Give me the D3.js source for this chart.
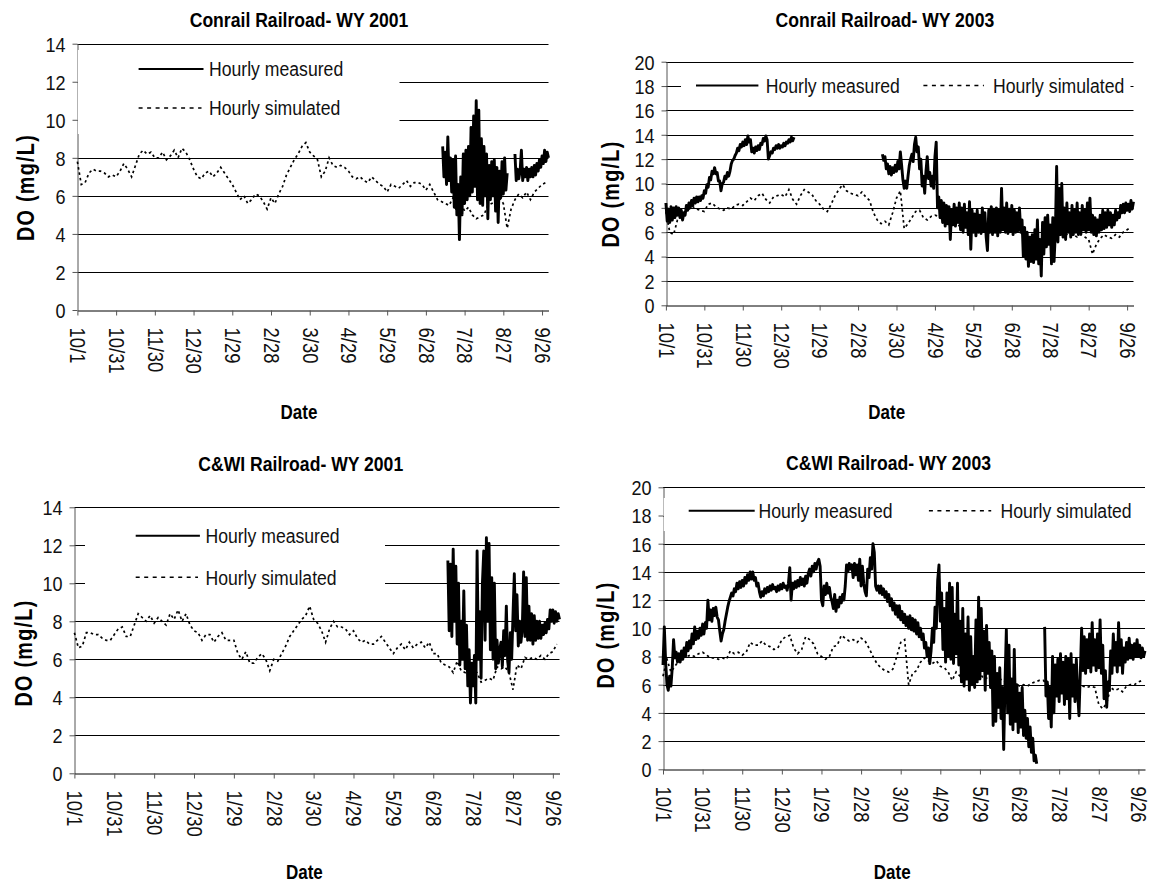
<!DOCTYPE html>
<html><head><meta charset="utf-8">
<script src="https://cdn.jsdelivr.net/npm/d3@7"></script>
<style>
body{margin:0;background:#fff;}
svg{display:block;font-family:"Liberation Sans",Arial,sans-serif;}
</style></head><body>
<svg id="chart" width="1150" height="884"></svg>
<script>
// ---------- data ----------
const tickDays = [0,30,60,90,120,150,180,210,240,270,300,330,360];
const tickLabels = ["10/1","10/31","11/30","12/30","1/29","2/28","3/30","4/29","5/29","6/28","7/28","8/27","9/26"];
const yTicks14 = [0,2,4,6,8,10,12,14];
const yTicks20 = [0,2,4,6,8,10,12,14,16,18,20];
const titles = ["Conrail Railroad- WY 2001","Conrail Railroad- WY 2003","C&WI Railroad- WY 2001","C&WI Railroad- WY 2003"];
const legendLabels = ["Hourly measured","Hourly simulated"];
const yAxisTitle = "DO (mg/L)";
const xAxisTitle = "Date";

// simulated series: one value every 3 days from 10/1
const simStep = 3;
const conrail01Sim = [7.8,6.6,6.7,7.2,7.4,7.3,7.3,7.2,7.0,7.1, 7.0,7.3,7.7,7.4,7.0,7.6,8.2,8.4,8.2,8.3,
 8.0,8.0,8.3,7.9,8.1,8.4,8.0,8.5,8.3,7.9, 7.4,7.0,6.9,7.2,7.3,7.0,7.2,7.5,7.2,6.9,
 6.6,6.2,5.8,6.0,5.6,5.8,6.1,6.0,5.7,5.3, 5.9,5.6,6.1,6.5,7.1,7.5,7.9,8.2,8.6,8.8,
 8.3,8.1,7.9,7.0,7.3,8.0,7.6,7.5,7.6,7.5, 7.3,7.0,6.9,7.0,6.8,6.7,7.0,6.8,6.6,6.5,
 6.2,6.6,6.5,6.4,6.6,6.8,6.5,6.7,6.7,6.6, 6.3,6.6,6.2,5.8,5.7,5.6,5.5,5.9,5.1,5.6,
 5.2,5.4,5.0,4.8,4.9,5.0,5.5,5.6,5.7,5.9, 5.6,4.3,5.3,5.8,6.1,5.9,6.2,5.8,6.2,6.4, 6.6,6.7];
const conrail03Sim = [7.7,6.0,5.8,7.0,7.3,7.6,7.9,8.1,7.9,7.8, 7.7,8.3,8.4,8.1,7.9,7.8,8.0,7.9,8.2,8.3,
 8.2,8.5,8.8,8.6,9.0,9.2,8.7,8.4,8.9,9.0, 9.1,8.9,9.5,8.7,8.3,9.0,9.5,9.3,9.1,8.6,
 8.3,7.9,7.7,8.3,9.0,9.5,9.9,9.4,9.2,9.1, 9.0,9.3,8.9,8.6,7.6,7.0,6.7,6.9,6.6,7.6,
 8.8,9.4,6.3,6.7,7.2,7.7,7.8,7.2,7.0,7.3, 7.4,7.3,7.0,6.8,6.9,6.7,6.5,6.7,6.6,6.4,
 6.5,6.7,6.4,6.3,6.5,6.6,6.4,6.3,6.5,6.3, 6.2,6.1,6.0,5.8,5.6,5.7,5.8,5.9,6.1,6.0,
 5.8,5.6,5.8,6.0,5.9,5.7,5.8,5.6,5.8,5.6, 5.4,4.2,5.0,5.5,5.8,5.6,5.5,5.8,5.6,6.0, 6.2,6.4];
const cwi01Sim = [7.4,6.6,6.7,7.4,7.4,7.3,7.3,7.1,7.0,7.0, 7.3,7.6,7.7,7.2,7.2,7.8,8.4,8.2,8.0,8.3,
 7.9,8.2,8.0,7.8,8.4,8.1,8.6,8.0,8.4,7.8, 7.5,7.4,7.0,7.3,7.3,6.9,7.2,7.4,7.0,7.0,
 7.0,6.3,6.0,6.4,5.8,5.8,6.1,6.3,6.0,5.4, 6.0,5.9,6.3,6.7,7.2,7.5,7.8,8.1,8.3,8.8,
 8.1,7.9,7.5,6.9,7.6,8.0,7.7,7.7,7.6,7.3, 7.5,7.1,6.9,7.0,6.8,6.8,7.0,7.2,6.9,6.6,
 6.3,6.6,6.8,6.5,6.9,6.6,6.8,6.9,6.6,6.9, 6.3,6.3,5.8,5.7,5.6,5.3,5.9,5.4,5.3,5.6,
 5.4,5.3,4.8,4.9,5.0,4.9,5.6,5.5,5.6,5.3, 4.4,5.7,5.5,6.1,6.0,6.1,6.0,6.2,6.0,6.3, 6.4,6.8];
const cwi03Sim = [6.6,7.8,6.9,7.3,7.7,8.0,8.0,8.1,8.0,8.2, 8.3,8.1,7.9,7.9,7.8,7.9,7.8,8.4,8.2,8.3,
 8.1,8.3,9.0,8.8,8.8,9.1,8.8,8.7,8.5,8.6, 9.2,9.4,9.5,8.6,8.2,8.5,9.4,9.2,8.9,8.2,
 8.0,7.8,8.0,8.7,8.8,9.5,9.3,9.1,9.2,9.0, 9.3,9.1,8.6,8.0,7.5,7.2,7.0,6.9,7.1,8.0,
 9.0,9.2,6.0,6.8,7.0,7.6,7.9,7.7,7.5,7.7, 7.3,7.2,6.9,6.3,6.9,6.6,6.8,6.4,6.7,6.5,
 6.8,6.4,6.5,6.3,6.2,6.4,6.3,6.0,5.9,6.1, 5.9,6.0,5.9,6.1,6.2,6.3,6.3,6.0,6.0,5.9,
 6.0,5.9,6.0,5.8,5.9,6.0,5.9,5.8,5.9,5.8, 4.6,4.3,4.7,5.8,5.6,5.7,5.5,5.9,6.0,6.0, 6.2,6.3];

// measured series: one high/low reading per day (null = no data)
const measStep = 1;
const conrail01MeasStart = 283;
const conrail01Meas = [8.6,7.0,8.3,6.6,9.1,6.8,8.0,6.2,7.9,5.4,
 8.1,5.0,6.6,3.7,7.0,5.0,8.2,5.6,8.4,5.8, 8.6,6.0,9.6,6.2,10.2,6.5,11.0,5.8,10.5,5.6,
 9.0,5.5,8.6,6.0,8.2,4.8,7.6,5.8,7.8,6.0, 7.9,5.2,7.5,4.6,7.3,5.9,7.8,6.1,8.0,6.3,
 7.2,null,null,null,null,null,8.2,6.8,7.4,6.9, 7.3,8.4,6.8,7.4,7.0,7.5,6.8,7.4,7.0,7.5,
 7.0,7.6,7.1,7.7,7.3,7.9,7.5,8.1,7.7,8.4, 7.8,8.3,8.0];
const conrail03MeasAStart = 0;
const conrail03MeasA = [8.4,6.9,7.9,6.8,8.1,7.0,8.0,7.2,8.1,7.4, 8.0,7.2,7.8,7.0,7.6,7.4,8.2,7.8,8.4,8.0,
 8.6,8.2,8.8,8.4,8.9,8.5,8.9,8.6,9.0,8.8, 9.4,9.2,9.9,9.7,10.5,10.3,11.0,10.8,11.3,10.8,
 10.9,10.2,10.2,9.4,10.0,10.1,10.6,10.4,10.9,10.6, 11.0,11.6,11.9,12.0,12.3,12.5,12.9,12.7,13.2,13.0,
 13.4,13.1,13.6,13.2,13.9,13.4,13.6,12.6,12.9,12.5, 13.0,12.7,13.1,12.8,13.3,13.2,13.7,13.5,13.9,13.6,
 12.0,12.3,12.6,12.5,12.9,12.8,13.1,12.9,13.2,12.9, 13.1,13.0,13.3,13.1,13.4,13.3,13.6,13.4,13.8,13.5, 13.8];
const conrail03MeasBStart = 169;
const conrail03MeasB = [12.4,11.9,12.2,11.2,11.6,10.8,11.4,10.7,11.3,10.9,
 11.5,11.0,11.8,11.2,12.6,11.5,10.3,9.6,10.2,9.6, 10.6,11.5,12.0,12.4,11.8,13.2,13.8,12.6,13.0,11.2,
 12.0,9.8,10.6,9.2,11.0,12.2,10.4,10.9,9.8,10.6, 9.6,12.2,13.4,8.0,8.9,7.2,8.6,6.8,8.4,6.5,
 8.2,6.7,8.1,5.4,7.8,6.6,8.3,6.5,8.0,6.8, 8.4,6.2,8.0,6.0,8.3,6.4,7.6,5.8,8.5,4.6,
 7.8,6.0,7.5,5.7,7.8,6.0,7.4,5.9,8.0,6.1, 7.6,5.6,4.5,7.8,6.0,8.1,5.8,7.9,6.0,8.0,
 5.7,7.8,6.0,9.6,6.2,8.0,6.0,8.4,5.9,7.9, 6.1,8.2,5.8,7.8,6.0,7.6,6.2,8.0,6.0,7.0,
 4.0,6.4,3.8,6.0,3.2,5.6,3.6,5.8,3.5,6.2, 3.8,7.0,3.4,5.4,2.4,6.8,4.2,7.2,4.8,7.4,
 5.0,6.6,3.4,7.2,3.6,6.0,11.4,5.2,9.6,5.8, 10.0,5.6,8.0,5.4,8.4,6.0,7.6,5.6,8.2,5.8,
 7.8,6.0,8.4,5.8,7.6,5.9,8.2,6.2,7.8,6.0, 8.4,6.2,8.8,6.0,7.4,5.8,7.2,5.7,7.0,6.0,
 7.4,6.2,7.8,6.3,7.6,6.4,7.8,6.6,7.6,6.4, 7.4,6.6,7.8,7.0,7.6,7.2,8.2,7.6,8.3,7.6,
 8.4,7.8,8.3,7.7,8.6,7.9,8.5];
const cwi01MeasStart = 281;
const cwi01Meas = [11.2,7.5,11.0,7.2,11.8,8.0,10.9,6.8,10.0,5.7,
 8.0,6.0,9.6,5.5,7.8,4.6,6.5,3.7,5.8,4.6, 6.2,3.7,11.7,6.0,8.5,5.0,10.0,11.7,7.0,12.4,
 8.0,12.1,6.5,10.3,6.0,10.0,5.5,7.0,5.8,6.5, 6.9,5.6,7.5,6.2,8.8,5.9,5.3,7.4,6.0,8.3,
 10.5,7.5,9.4,6.7,8.0,6.9,7.6,10.6,7.2,10.3, 7.0,8.8,7.0,8.4,6.8,8.3,7.0,8.0,7.1,8.0,
 7.1,7.8,7.3,7.9,7.4,8.1,7.6,8.6,8.0,8.6, 7.9,8.5,8.0,8.4,8.1];
const cwi03MeasStart = 0;
const cwi03Meas = [7.4,10.1,7.6,6.0,5.6,6.6,5.9,7.2,9.2,7.9,
 8.3,7.6,8.2,7.6,8.4,7.8,8.6,8.0,9.0,8.4, 9.1,8.6,9.6,8.9,10.1,9.2,9.8,9.3,10.0,9.5,
 10.3,9.6,10.4,10.0,12.0,10.6,11.3,10.5,11.4,10.9, 11.5,10.8,10.6,9.8,9.1,9.6,9.9,10.5,11.0,11.5,
 11.9,12.2,12.5,12.3,12.8,12.6,13.2,12.8,13.3,12.9, 13.4,13.0,13.6,13.2,13.8,13.4,14.0,13.5,14.0,13.4,
 13.6,13.0,13.2,12.6,12.2,12.6,12.3,12.8,12.5,12.9, 12.6,13.0,12.7,13.1,12.8,12.9,12.6,13.0,12.7,13.1,
 12.8,13.2,12.9,13.0,12.7,13.2,14.3,12.0,13.2,12.8, 13.3,12.9,13.4,13.0,13.6,13.1,13.5,13.0,13.7,13.2,
 13.9,14.2,13.7,14.4,14.0,14.6,14.2,14.7,14.9,14.4, 12.0,11.6,13.0,12.4,13.2,12.5,12.9,12.2,11.9,11.4,
 12.4,11.2,12.0,11.5,12.2,11.8,12.4,12.0,13.0,14.5, 14.0,14.6,14.2,14.5,13.6,14.6,13.8,14.5,13.4,14.9,
 13.0,14.4,13.2,12.6,12.3,14.2,13.6,15.0,14.2,16.0, 15.4,13.0,12.7,13.0,12.5,13.0,12.4,12.8,12.2,12.6,
 11.9,12.4,11.6,12.1,11.3,11.8,11.0,11.6,10.8,11.6, 10.6,11.2,10.4,11.0,10.2,10.8,10.0,10.9,9.9,10.7,
 9.8,10.6,9.6,10.4,9.4,10.0,9.2,9.6,8.6,9.0, 8.0,8.6,7.5,8.4,10.0,9.0,11.5,10.0,13.4,14.5,
 10.5,12.5,8.5,11.4,7.6,12.5,8.0,13.2,7.8,12.9, 7.5,11.0,8.2,13.2,7.4,10.5,6.2,11.4,5.9,9.6,
 6.4,10.8,5.6,9.4,6.0,8.0,5.8,10.6,6.2,12.2, 6.4,11.4,7.0,9.8,5.6,10.2,6.8,9.0,5.8,8.4,
 3.1,8.0,3.4,6.8,4.4,7.2,3.6,5.8,1.4,6.2, 9.9,4.0,8.8,3.2,6.4,2.8,8.5,3.4,6.0,2.6,
 5.4,3.0,5.8,2.4,4.2,2.2,3.6,1.6,3.0,1.2, 2.2,0.6,1.0,0.4,null,null,null,null,null,10.1,
 5.2,6.2,3.6,5.8,3.0,8.0,4.0,7.4,5.2,7.8, 4.8,8.2,5.4,7.6,4.6,8.0,5.0,7.8,3.6,8.2,
 5.2,7.4,4.8,7.8,5.4,3.8,6.8,10.0,7.0,9.4, 6.8,9.2,7.2,9.6,6.9,10.4,7.4,9.2,7.0,9.6,
 7.2,10.6,6.8,8.8,5.0,7.0,4.4,6.2,5.6,8.4, 6.8,9.6,7.4,9.0,6.9,10.4,7.4,9.2,6.8,8.6,
 7.6,9.0,7.8,9.3,7.9,8.8,7.8,8.9,8.0,9.2, 8.0,8.8,7.9,8.6,8.0,8.4];

// ---------- layout ----------
const toPts = (start, step, vals) => vals.map((v, i) => [start + i * step, v]);

const panels = [
  { title: titles[0], yTicks: yTicks14, sim: toPts(0, simStep, conrail01Sim),
    meas: [toPts(conrail01MeasStart, measStep, conrail01Meas)],
    x0: 77.4, x1: 548.5, yTop: 43.7, yBot: 310,
    titleXY: [299, 20], ytXY: [25.7, 187.5], dateXY: [299, 411.7],
    box: [77.9, 50, 399.5, 134],
    leg: [{dash:false, x1:138.6, x2:203.5, y:69, tx:209}, {dash:true, x1:138.6, x2:201.5, y:108, tx:209}] },
  { title: titles[1], yTicks: yTicks20, sim: toPts(0, simStep, conrail03Sim),
    meas: [toPts(conrail03MeasAStart, measStep, conrail03MeasA), toPts(conrail03MeasBStart, measStep, conrail03MeasB)],
    x0: 665.9, x1: 1133.5, yTop: 61.7, yBot: 305.3,
    titleXY: [884.9, 20], ytXY: [610.5, 194], dateXY: [886.7, 411.7],
    box: [681, 75, 1130.5, 97],
    leg: [{dash:false, x1:696, x2:758.4, y:85.5, tx:765.7}, {dash:true, x1:923.4, x2:983.9, y:85.5, tx:993}] },
  { title: titles[2], yTicks: yTicks14, sim: toPts(0, simStep, cwi01Sim),
    meas: [toPts(cwi01MeasStart, measStep, cwi01Meas)],
    x0: 74.4, x1: 559.5, yTop: 507.3, yBot: 773.3,
    titleXY: [300.7, 464], ytXY: [23.8, 653], dateXY: [304.4, 871.7],
    box: [85, 515, 385, 598],
    leg: [{dash:false, x1:135.7, x2:199.9, y:535.7, tx:205.4}, {dash:true, x1:135.7, x2:198, y:577.3, tx:205.4}] },
  { title: titles[3], yTicks: yTicks20, sim: toPts(0, simStep, cwi03Sim),
    meas: [toPts(cwi03MeasStart, measStep, cwi03Meas)],
    x0: 663, x1: 1145, yTop: 487.3, yBot: 769.3,
    titleXY: [888.5, 463.3], ytXY: [606.2, 635], dateXY: [892.2, 871.7],
    box: [663.8, 498, 1146, 531],
    leg: [{dash:false, x1:688.7, x2:754.7, y:510.7, tx:758.4}, {dash:true, x1:928.9, x2:991.2, y:510.7, tx:1000.4}] }
];

const svg = d3.select("#chart");

// text helper: condensed along the reading direction
function addText(parent, x, y, str, o) {
  const rot = o.rotate ? ` rotate(${o.rotate})` : "";
  return parent.append("text")
    .attr("transform", `translate(${x},${y})${rot} scale(${o.k},1)`)
    .attr("dy", "0.35em")
    .attr("text-anchor", o.anchor || "start")
    .attr("font-size", o.size)
    .attr("font-weight", o.bold ? "bold" : null)
    .attr("letter-spacing", o.ls || null)
    .attr("fill", o.fill || "#111")
    .text(str);
}

panels.forEach(p => {
  const yMax = p.yTicks[p.yTicks.length - 1];
  const x = d3.scaleLinear().domain([0, 365]).range([p.x0, p.x1]);
  const y = d3.scaleLinear().domain([0, yMax]).range([p.yBot, p.yTop]);
  const g = svg.append("g");

  // gridlines
  g.append("g").selectAll("line").data(p.yTicks.filter(v => v > 0)).join("line")
    .attr("x1", p.x0).attr("x2", p.x1)
    .attr("y1", d => Math.round(y(d)) + 0.5).attr("y2", d => Math.round(y(d)) + 0.5)
    .attr("stroke", "#000").attr("stroke-width", 1);

  // y axis
  const ya = g.append("g").attr("transform", `translate(${Math.round(p.x0) + 0.5},0)`)
    .call(d3.axisLeft(y).tickValues(p.yTicks).tickSize(5).tickSizeOuter(0).tickPadding(7));
  ya.select(".domain").attr("stroke", "#555");
  ya.selectAll(".tick line").attr("stroke", "#555");
  ya.selectAll("text")
    .attr("font-family", "Liberation Sans, Arial, sans-serif").attr("font-size", 21).attr("fill", "#111")
    .attr("x", 0).attr("dy", "0.35em")
    .attr("transform", "translate(-12,0) scale(0.86,1)");

  // x axis
  const xa = g.append("g").attr("transform", `translate(0,${Math.round(p.yBot) + 0.5})`)
    .call(d3.axisBottom(x).tickValues(tickDays).tickFormat((d, i) => tickLabels[i]).tickSize(5).tickSizeOuter(0));
  xa.select(".domain").attr("stroke", "#000");
  xa.selectAll(".tick line").attr("stroke", "#555");
  xa.selectAll("text")
    .attr("font-family", "Liberation Sans, Arial, sans-serif").attr("font-size", 22).attr("fill", "#111")
    .attr("x", 0).attr("y", 0).attr("dy", "0.35em")
    .attr("transform", "rotate(90) translate(17,0) scale(0.84,1)")
    .attr("text-anchor", "start");

  const line = d3.line().defined(d => d[1] != null).x(d => x(d[0])).y(d => y(d[1]));

  // simulated (dashed)
  g.append("path").datum(p.sim).attr("d", line)
    .attr("fill", "none").attr("stroke", "#000").attr("stroke-width", 1.7)
    .attr("stroke-dasharray", "2.5,3");

  // measured (solid)
  p.meas.forEach(seg => {
    g.append("path").datum(seg).attr("d", line)
      .attr("fill", "none").attr("stroke", "#000").attr("stroke-width", 2.9)
      .attr("stroke-linejoin", "round");
  });

  // legend
  const [bx1, by1, bx2, by2] = p.box;
  g.append("rect").attr("x", bx1).attr("y", by1).attr("width", bx2 - bx1).attr("height", by2 - by1)
    .attr("fill", "#fff");
  p.leg.forEach((l, i) => {
    g.append("line").attr("x1", l.x1).attr("x2", l.x2).attr("y1", l.y).attr("y2", l.y)
      .attr("stroke", "#000").attr("stroke-width", l.dash ? 1.5 : 2)
      .attr("stroke-dasharray", l.dash ? "4,4.5" : null);
    addText(g, l.tx, l.y, legendLabels[i], {size: 21, k: 0.84});
  });

  // titles
  addText(g, p.titleXY[0], p.titleXY[1], p.title, {size: 20, k: 0.88, bold: true, anchor: "middle", fill: "#000"});
  addText(g, p.ytXY[0], p.ytXY[1], yAxisTitle, {size: 23, k: 0.86, bold: true, anchor: "middle", rotate: -90, ls: 1.5, fill: "#000"});
  addText(g, p.dateXY[0], p.dateXY[1], xAxisTitle, {size: 20, k: 0.85, bold: true, anchor: "middle", fill: "#000"});
});
</script>
</body></html>
